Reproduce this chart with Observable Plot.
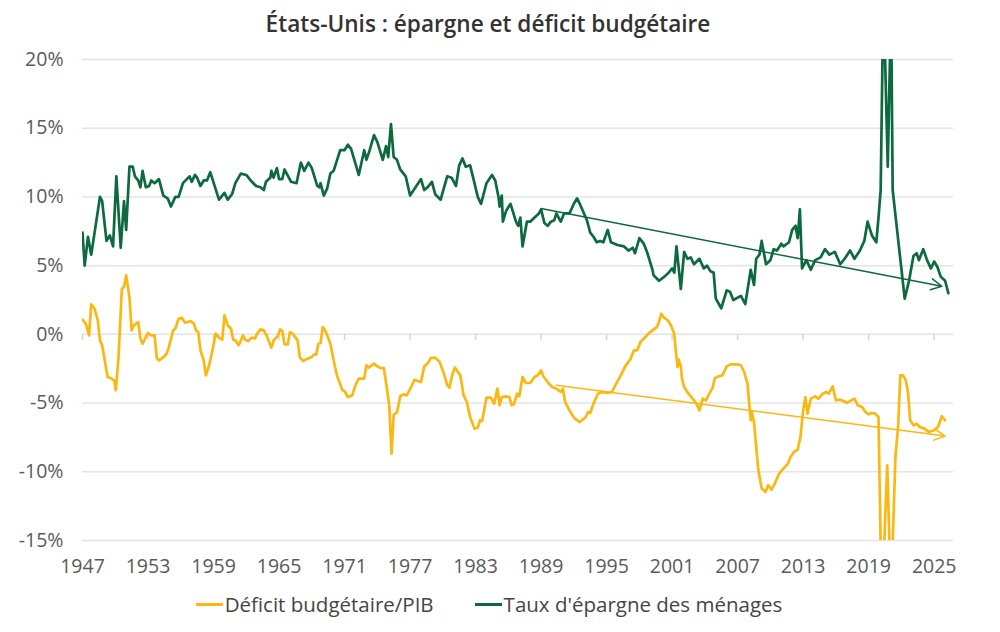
<!DOCTYPE html>
<html><head><meta charset="utf-8">
<script src="https://cdn.jsdelivr.net/npm/d3@7"></script>
<script src="https://cdn.jsdelivr.net/npm/@observablehq/plot@0.6"></script>
<style>
body{margin:0;background:#fff;font-family:"Open Sans",Lato,sans-serif;}
#title{height:45px;box-sizing:border-box;padding-top:10px;padding-right:24px;line-height:28px;text-align:center;font-size:22.6px;font-weight:600;color:#333;}
#legend{height:38px;display:flex;justify-content:center;align-items:center;font-size:20.5px;color:#454545;padding-right:22px;}
.item{display:flex;align-items:center;margin:0 20.5px;}
.sw{width:27px;height:3px;margin-right:2px;}
</style></head><body>
<div id="title">États-Unis : épargne et déficit budgétaire</div>
<div id="chart"></div>
<div id="legend"></div>
<script>
// Séries (année décimale, %)
const epargne = [
[1947.0,7.4],[1947.2,5.0],[1947.5,7.1],[1947.8,5.8],[1948.6,10.0],[1948.8,9.7],[1949.2,6.8],[1949.5,7.2],[1949.8,6.4],
[1950.1,11.5],[1950.5,6.3],[1950.8,9.7],[1951.0,7.6],[1951.3,12.2],[1951.6,12.2],[1951.8,11.5],[1952.1,11.2],[1952.3,10.7],
[1952.5,11.9],[1952.8,10.7],[1953.1,10.8],[1953.3,11.2],[1953.6,11.0],[1954.0,11.3],[1954.4,10.1],[1954.8,9.9],[1955.1,9.3],
[1955.5,10.0],[1955.8,10.0],[1956.2,11.0],[1956.8,11.5],[1957.0,11.1],[1957.3,11.6],[1957.5,11.4],[1957.8,10.8],[1958.1,11.2],
[1958.4,11.2],[1958.7,11.8],[1959.1,10.8],[1959.5,9.8],[1960.0,10.3],[1960.3,9.8],[1960.7,10.2],[1961.0,11.0],[1961.5,11.7],
[1962.0,11.6],[1962.4,11.2],[1962.9,10.8],[1963.3,10.7],[1963.6,10.5],[1963.8,11.1],[1964.2,11.4],[1964.3,11.9],[1964.5,11.4],
[1964.8,12.1],[1965.0,11.3],[1965.3,11.3],[1965.5,12.0],[1966.1,11.1],[1966.6,11.0],[1967.0,12.5],[1967.3,11.9],[1967.7,12.5],
[1968.0,12.1],[1968.5,10.8],[1968.7,10.7],[1968.8,11.0],[1969.1,10.1],[1969.4,10.6],[1969.7,11.7],[1970.0,11.9],[1970.6,13.4],
[1971.0,13.4],[1971.3,13.8],[1971.6,13.5],[1972.3,11.6],[1972.8,13.4],[1973.0,12.7],[1973.3,13.4],[1973.7,14.5],[1974.0,14.0],
[1974.5,12.7],[1974.8,13.7],[1975.0,12.9],[1975.25,15.3],[1975.5,12.9],[1975.8,12.7],[1976.1,12.0],[1976.6,11.5],[1977.0,10.1],
[1977.5,10.7],[1978.0,11.3],[1978.3,10.5],[1978.6,10.7],[1979.0,11.1],[1979.3,10.2],[1979.8,9.8],[1980.4,11.5],[1980.8,11.4],
[1981.2,10.8],[1981.5,12.3],[1981.8,12.8],[1982.1,12.2],[1982.5,12.3],[1982.9,11.0],[1983.2,10.0],[1983.5,9.5],[1984.0,11.0],
[1984.5,11.6],[1984.8,11.2],[1985.1,10.0],[1985.2,9.3],[1985.4,10.1],[1985.5,8.2],[1985.8,9.0],[1986.2,9.5],[1986.7,8.2],
[1986.9,7.9],[1987.1,8.5],[1987.3,6.4],[1987.7,8.2],[1988.0,8.2],[1988.4,8.5],[1988.8,8.8],[1989.0,9.1],[1989.3,8.1],
[1989.6,7.9],[1989.9,8.2],[1990.2,8.3],[1990.4,8.8],[1990.8,8.2],[1991.1,8.8],[1991.6,8.8],[1992.0,9.5],[1992.3,9.9],
[1992.6,9.4],[1993.2,8.3],[1993.5,7.4],[1993.8,7.1],[1994.1,6.7],[1994.4,6.8],[1994.7,6.7],[1995.1,7.6],[1995.4,6.7],
[1996.0,6.5],[1996.6,6.4],[1997.0,6.1],[1997.4,6.3],[1997.6,5.9],[1998.0,7.0],[1998.4,6.6],[1998.7,6.0],[1999.2,4.7],
[1999.3,4.3],[1999.8,3.9],[2000.3,4.2],[2000.7,4.5],[2001.0,4.8],[2001.2,4.5],[2001.4,6.4],[2001.8,3.3],[2002.1,6.0],
[2002.4,5.5],[2002.7,5.6],[2003.0,5.1],[2003.5,5.5],[2003.9,4.8],[2004.2,5.0],[2004.5,4.6],[2004.8,4.5],[2005.0,2.6],
[2005.5,1.9],[2006.0,3.2],[2006.3,3.1],[2006.6,2.5],[2007.3,2.8],[2007.7,2.2],[2008.2,4.7],[2008.5,3.6],[2008.7,5.5],
[2009.0,5.8],[2009.2,6.8],[2009.6,5.1],[2010.0,5.4],[2010.3,6.2],[2010.6,6.1],[2011.0,6.6],[2011.2,6.4],[2011.7,6.7],
[2012.0,7.6],[2012.3,7.9],[2012.5,7.0],[2012.7,9.1],[2012.9,4.8],[2013.3,5.4],[2013.7,4.7],[2014.1,5.4],[2014.6,5.6],
[2015.0,6.2],[2015.4,5.8],[2015.9,6.0],[2016.4,5.1],[2016.8,5.5],[2017.3,6.1],[2017.7,5.5],[2018.2,6.1],[2018.6,6.8],
[2018.9,8.2],[2019.3,7.2],[2019.7,6.7],[2019.9,8.5],[2020.1,10.5],[2020.35,25.0],[2020.75,12.2],[2021.05,24.0],[2021.2,10.5],
[2022.3,2.6],[2022.7,3.9],[2023.1,5.7],[2023.4,5.9],[2023.6,5.4],[2024.0,6.2],[2024.35,5.4],[2024.7,4.8],[2025.0,5.3],
[2025.3,4.9],[2025.6,4.2],[2026.0,3.9],[2026.3,3.0]
];
const deficit = [
[1947.0,1.07],[1947.3,0.78],[1947.6,-0.07],[1947.8,2.18],[1948.1,1.87],[1948.4,1.02],[1948.6,-0.44],[1948.8,-0.8],[1949.3,-3.1],
[1949.6,-3.2],[1949.9,-3.35],[1950.05,-4.07],[1950.3,-1.65],[1950.6,3.32],[1950.8,3.44],[1951.0,4.29],[1951.3,2.7],[1951.5,0.29],
[1951.7,0.65],[1952.1,0.9],[1952.3,-0.3],[1952.5,-0.68],[1952.8,-0.19],[1953.0,0.1],[1953.3,-0.07],[1953.6,-0.07],[1953.8,-1.7],
[1954.0,-1.9],[1954.5,-1.6],[1954.7,-1.4],[1954.9,-0.97],[1955.3,0.29],[1955.5,0.41],[1955.8,1.14],[1956.1,1.21],[1956.4,0.85],
[1956.9,0.97],[1957.2,0.78],[1957.4,0.29],[1957.6,0.17],[1957.8,-1.16],[1958.1,-1.89],[1958.3,-2.98],[1958.6,-2.25],[1958.9,-1.16],
[1959.2,0.05],[1959.5,-0.24],[1959.8,-0.39],[1960.0,1.38],[1960.3,0.65],[1960.6,0.41],[1960.8,-0.39],[1961.0,-0.44],[1961.3,-0.8],
[1961.7,-0.07],[1961.9,-0.39],[1962.2,-0.48],[1962.5,-0.24],[1962.8,-0.3],[1963.0,0.05],[1963.3,0.36],[1963.6,0.29],[1963.9,-0.15],
[1964.3,-0.97],[1964.5,-0.44],[1964.85,-0.15],[1965.1,0.36],[1965.3,0.24],[1965.5,-0.73],[1965.8,-0.73],[1966.0,0.17],[1966.3,0.0],
[1966.7,-0.44],[1966.9,-1.65],[1967.2,-1.94],[1967.6,-1.77],[1968.0,-1.65],[1968.2,-1.45],[1968.4,-1.48],[1968.6,-0.68],[1968.8,-0.63],
[1969.0,0.53],[1969.3,0.17],[1969.7,-0.68],[1970.0,-1.89],[1970.3,-2.98],[1970.8,-4.07],[1971.0,-4.12],[1971.3,-4.56],[1971.7,-4.44],
[1972.0,-3.7],[1972.3,-3.22],[1972.8,-3.22],[1973.0,-2.25],[1973.2,-2.42],[1973.7,-2.13],[1974.0,-2.33],[1974.3,-2.45],[1974.6,-2.45],
[1974.9,-4.07],[1975.1,-5.28],[1975.3,-8.68],[1975.5,-5.85],[1975.8,-5.68],[1976.1,-4.5],[1976.4,-4.36],[1976.7,-4.44],[1977.1,-3.83],
[1977.4,-3.3],[1977.7,-3.39],[1978.0,-3.47],[1978.3,-2.33],[1978.6,-2.13],[1978.9,-1.72],[1979.3,-1.7],[1979.7,-2.0],[1980.1,-2.86],
[1980.4,-3.7],[1980.6,-3.88],[1980.9,-2.86],[1981.1,-2.42],[1981.6,-2.98],[1981.9,-4.44],[1982.2,-4.92],[1982.5,-6.01],[1982.9,-6.86],
[1983.2,-6.79],[1983.4,-6.25],[1983.6,-6.3],[1984.0,-4.6],[1984.4,-4.6],[1984.7,-5.04],[1985.0,-3.95],[1985.2,-5.16],[1985.4,-4.56],
[1985.8,-4.51],[1986.1,-4.56],[1986.3,-5.16],[1986.5,-5.09],[1986.8,-4.32],[1987.0,-4.51],[1987.3,-3.1],[1987.6,-3.54],[1988.0,-3.54],
[1988.4,-3.1],[1988.7,-2.98],[1989.0,-2.62],[1989.2,-3.05],[1989.6,-3.47],[1990.0,-3.83],[1990.4,-3.95],[1990.8,-4.19],[1991.0,-3.95],
[1991.2,-4.92],[1991.6,-5.53],[1992.0,-6.06],[1992.5,-6.38],[1992.8,-6.21],[1993.1,-6.01],[1993.3,-5.65],[1993.5,-5.72],[1993.8,-5.04],
[1994.2,-4.32],[1994.6,-4.19],[1995.1,-4.27],[1995.5,-4.19],[1995.8,-3.7],[1996.3,-2.98],[1996.7,-2.33],[1997.2,-1.77],[1997.5,-1.16],
[1997.8,-1.16],[1998.1,-0.56],[1998.6,-0.15],[1998.9,0.1],[1999.2,0.29],[1999.6,0.53],[1999.8,0.9],[2000.0,1.5],[2000.2,1.26],
[2000.6,1.02],[2000.9,0.65],[2001.2,0.05],[2001.3,-0.92],[2001.5,-2.38],[2001.6,-1.84],[2001.8,-2.33],[2001.9,-3.22],[2002.1,-3.83],
[2002.5,-4.32],[2003.0,-4.8],[2003.3,-5.16],[2003.5,-5.53],[2003.8,-4.68],[2004.1,-4.8],[2004.4,-4.32],[2004.7,-3.9],[2004.9,-3.22],
[2005.1,-3.1],[2005.6,-2.98],[2006.0,-2.33],[2006.35,-2.18],[2007.0,-2.18],[2007.3,-2.25],[2007.6,-2.74],[2007.9,-3.59],[2008.2,-6.25],
[2008.3,-5.65],[2008.5,-6.38],[2008.7,-8.19],[2008.9,-9.89],[2009.2,-11.2],[2009.55,-11.47],[2009.8,-10.98],[2010.1,-11.3],[2010.4,-10.86],
[2010.8,-10.13],[2011.2,-9.77],[2011.6,-9.4],[2011.85,-8.92],[2012.15,-8.56],[2012.5,-8.39],[2012.75,-7.47],[2013.0,-5.53],[2013.2,-4.56],
[2013.4,-5.77],[2013.7,-4.68],[2014.1,-4.51],[2014.4,-4.68],[2014.8,-4.32],[2015.1,-4.19],[2015.35,-4.32],[2015.7,-3.78],[2016.0,-4.8],
[2016.4,-4.75],[2016.7,-4.85],[2017.0,-4.99],[2017.3,-4.85],[2017.7,-4.68],[2018.0,-5.16],[2018.4,-5.28],[2018.7,-5.65],[2019.0,-5.82],
[2019.3,-5.72],[2019.6,-5.77],[2019.9,-6.01],[2020.2,-20.0],[2020.7,-9.53],[2021.05,-19.0],[2021.45,-8.92],[2021.7,-6.7],[2021.9,-2.98],
[2022.15,-2.98],[2022.4,-3.35],[2022.6,-4.19],[2022.8,-6.25],[2023.1,-6.62],[2023.4,-6.5],[2023.7,-6.74],[2024.1,-6.86],[2024.5,-7.1],
[2025.0,-6.98],[2025.35,-6.74],[2025.7,-5.96],[2026.0,-6.25]
];
// Tendances (début, fin)
const trends = [
  {serie: "epargne", x1: 1989.0, y1: 9.15, x2: 2025.7, y2: 3.5},
  {serie: "deficit", x1: 1990.4, y1: -3.7, x2: 2026.0, y2: -7.4}
];
const yTicks = [-15, -10, -5, 0, 5, 10, 15, 20];
const xTicks = [1947, 1953, 1959, 1965, 1971, 1977, 1983, 1989, 1995, 2001, 2007, 2013, 2019, 2025];
const seriesNames = ["Déficit budgétaire/PIB", "Taux d'épargne des ménages"];
const colors = {deficit: "#fbb812", epargne: "#0d6a3f"};

const W = 1000, H = 540, mt = 14, mb = 45, ml = 82, mr = 47;
const yScale = Plot.scale({y: {domain: [-15, 20], range: [H - mb, mt]}});
const zeroOffset = yScale.apply(0) - (H - mb);

const chart = Plot.plot({
  width: W, height: H, marginTop: mt, marginBottom: mb, marginLeft: ml, marginRight: mr,
  style: {fontFamily: "'Open Sans', Lato, sans-serif", fontSize: "19.5px", color: "#5a5a5a", background: "#fff", overflow: "visible"},
  x: {domain: [1947, 2026.77]},
  y: {domain: [-15, 20]},
  marks: [
    Plot.gridY(yTicks, {stroke: "#e4e4e4", strokeOpacity: 1, strokeWidth: 1.5}),
    Plot.axisY(yTicks, {tickSize: 0, tickPadding: 19, tickFormat: d => d + "%", fill: "#5a5a5a"}),
    Plot.axisX(xTicks, {tickSize: 0, tickPadding: 19, tickFormat: d => String(d), fill: "#5a5a5a"}),
    Plot.axisX(xTicks, {tickSize: 6, tickFormat: () => "", dy: zeroOffset, stroke: "#d4d4d4", strokeWidth: 1.5}),
    Plot.line(deficit, {x: d => d[0], y: d => d[1], stroke: colors.deficit, strokeWidth: 2.7, strokeLinejoin: "round", clip: true}),
    Plot.line(epargne, {x: d => d[0], y: d => d[1], stroke: colors.epargne, strokeWidth: 2.7, strokeLinejoin: "round", clip: true}),
    Plot.arrow(trends, {x1: "x1", y1: "y1", x2: "x2", y2: "y2", stroke: d => colors[d.serie], strokeWidth: 1.5, headLength: 12, headAngle: 55})
  ]
});
document.getElementById("chart").appendChild(chart);

const legend = document.getElementById("legend");
[[seriesNames[0], colors.deficit], [seriesNames[1], colors.epargne]].forEach(([name, c]) => {
  const it = document.createElement("div"); it.className = "item";
  const sw = document.createElement("div"); sw.className = "sw"; sw.style.background = c;
  const tx = document.createElement("span"); tx.textContent = name;
  it.appendChild(sw); it.appendChild(tx); legend.appendChild(it);
});
</script>
</body></html>
